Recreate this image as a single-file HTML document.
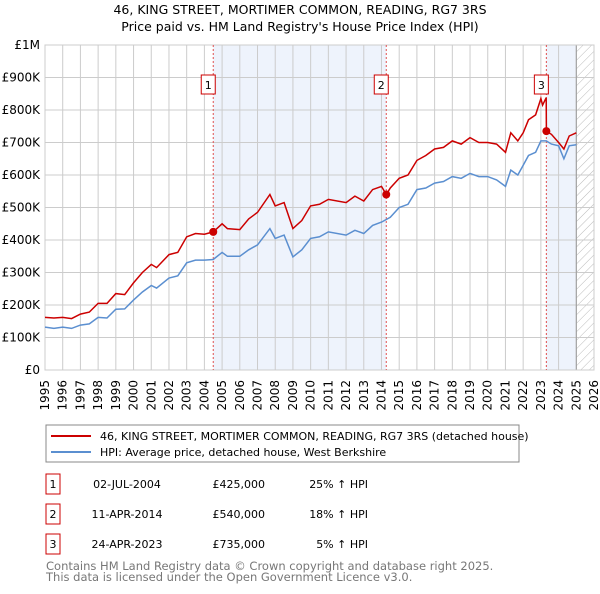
<!DOCTYPE html>
<html><head><meta charset="utf-8"><style>
body{margin:0;background:#fff;font-family:"DejaVu Sans","Liberation Sans",sans-serif;}
svg text{font-family:"DejaVu Sans","Liberation Sans",sans-serif;}
</style></head><body>
<svg id="c" width="600" height="590" viewBox="0 0 600 590" xmlns="http://www.w3.org/2000/svg">
<defs><pattern id="hatch" width="6" height="6" patternUnits="userSpaceOnUse" patternTransform="rotate(45)"><line x1="0" y1="0" x2="0" y2="6" stroke="#bbb" stroke-width="1"/></pattern></defs>
<text x="300" y="14" font-size="12.5" text-anchor="middle">46, KING STREET, MORTIMER COMMON, READING, RG7 3RS</text>
<text x="300" y="31" font-size="12.5" text-anchor="middle">Price paid vs. HM Land Registry's House Price Index (HPI)</text>
<g id="plot"></g>
<g>
<rect x="46" y="425" width="473" height="37" fill="#fff" stroke="#888"/>
<line x1="51" y1="436" x2="91" y2="436" stroke="#cc0000" stroke-width="2"/>
<text x="100" y="440" font-size="11">46, KING STREET, MORTIMER COMMON, READING, RG7 3RS (detached house)</text>
<line x1="51" y1="452" x2="91" y2="452" stroke="#5b8fd0" stroke-width="2"/>
<text x="100" y="456" font-size="11">HPI: Average price, detached house, West Berkshire</text>
</g>
<g id="table" font-size="11"></g>
<text x="46" y="570" font-size="11.5" fill="#777">Contains HM Land Registry data © Crown copyright and database right 2025.</text>
<text x="46" y="581" font-size="11.5" fill="#777">This data is licensed under the Open Government Licence v3.0.</text>
</svg>
<script>
const priceYears=[1995,1995.5,1996,1996.5,1997,1997.5,1998,1998.5,1999,1999.5,2000,2000.5,2001,2001.3,2002,2002.5,2003,2003.5,2004,2004.5,2005,2005.3,2006,2006.5,2007,2007.7,2008,2008.5,2009,2009.5,2010,2010.5,2011,2012,2012.5,2013,2013.5,2014,2014.27,2014.5,2015,2015.5,2016,2016.5,2017,2017.5,2018,2018.5,2019,2019.5,2020,2020.5,2021,2021.3,2021.7,2022,2022.3,2022.7,2023,2023.1,2023.3,2023.31,2023.6,2024,2024.3,2024.6,2025];
const priceValues=[162,160,162,158,172,178,205,205,235,232,268,300,325,315,355,362,410,420,418,425,450,435,432,465,485,540,505,515,435,460,505,510,525,515,535,520,555,565,540,560,590,600,645,660,680,685,705,695,715,700,700,695,670,730,705,730,770,785,835,815,838,735,725,700,680,720,730];
const hpiYears=[1995,1995.5,1996,1996.5,1997,1997.5,1998,1998.5,1999,1999.5,2000,2000.5,2001,2001.3,2002,2002.5,2003,2003.5,2004,2004.5,2005,2005.3,2006,2006.5,2007,2007.7,2008,2008.5,2009,2009.5,2010,2010.5,2011,2012,2012.5,2013,2013.5,2014,2014.5,2015,2015.5,2016,2016.5,2017,2017.5,2018,2018.5,2019,2019.5,2020,2020.5,2021,2021.3,2021.7,2022,2022.3,2022.7,2023,2023.3,2023.6,2024,2024.3,2024.6,2025];
const hpiValues=[132,128,132,128,138,142,162,160,187,188,215,240,260,252,283,290,330,338,338,340,362,350,350,370,385,435,405,415,348,370,405,410,425,415,430,420,445,455,470,500,510,555,560,575,580,595,590,605,595,595,585,565,615,600,630,660,670,705,705,695,690,650,690,693];
const saleLabels=["1","2","3"];
const saleYears=[2004.5,2014.27,2023.31];
const saleValues=[425,540,735];
const saleDates=["02-JUL-2004","11-APR-2014","24-APR-2023"];
const salePrices=["£425,000","£540,000","£735,000"];
const salePcts=["25% ↑ HPI","18% ↑ HPI","5% ↑ HPI"];
const yTicks=[0,100,200,300,400,500,600,700,800,900,1000];
const yTickLabels=["£0","£100K","£200K","£300K","£400K","£500K","£600K","£700K","£800K","£900K","£1M"];
const xTicks=[1995,1996,1997,1998,1999,2000,2001,2002,2003,2004,2005,2006,2007,2008,2009,2010,2011,2012,2013,2014,2015,2016,2017,2018,2019,2020,2021,2022,2023,2024,2025,2026];

const L=45,R=594,T=45,B=370,X0=1995,X1=2026;
const sx=v=>L+(v-X0)/(X1-X0)*(R-L);
const sy=v=>B-v/1000*(B-T);
const NS="http://www.w3.org/2000/svg";
const plot=document.getElementById('plot');
function mk(tag,attrs,parent){const e=document.createElementNS(NS,tag);for(const k in attrs)e.setAttribute(k,attrs[k]);(parent||plot).appendChild(e);return e;}
let e;
e=mk('rect',{x:sx(saleYears[0]),y:T,width:sx(saleYears[1])-sx(saleYears[0]),height:B-T,fill:'#eef3fc'});


e=mk('rect',{x:sx(saleYears[2]),y:T,width:sx(2025)-sx(saleYears[2]),height:B-T,fill:'#eef3fc'});


e=mk('rect',{x:sx(2025),y:T,width:sx(2026)-sx(2025),height:B-T,fill:'url(#hatch)'});


yTicks.forEach((v,i)=>{
 e=mk('line',{x1:L,x2:R,y1:sy(v),y2:sy(v),stroke:'#ccc','stroke-width':1});
 
 
 e=mk('text',{x:40,y:sy(v)+4,'font-size':12,'text-anchor':'end'});e.textContent=yTickLabels[i];
 
 
});
xTicks.forEach(v=>{
 e=mk('line',{x1:sx(v),x2:sx(v),y1:T,y2:B,stroke:'#ccc','stroke-width':1});
 
 
 const tx=sx(v)+4, ty=380;
 e=mk('text',{x:tx,y:ty,'font-size':12,'text-anchor':'end',transform:`rotate(-90 ${tx} ${ty})`});e.textContent=v;
 
 
});
e=mk('line',{x1:sx(2025),x2:sx(2025),y1:T,y2:B,stroke:'#999','stroke-width':1});


e=mk('rect',{x:L,y:T,width:R-L,height:B-T,fill:'none',stroke:'#ccc'});


saleYears.forEach((y,i)=>{
 e=mk('line',{x1:sx(y),x2:sx(y),y1:T,y2:B,stroke:'#e05050','stroke-width':1,'stroke-dasharray':'2,2'});
 
 
 const bx=sx(y)-11;
 e=mk('rect',{x:bx-1,y:75,width:14,height:19,fill:'#fff',stroke:'#cc0000'});
 
 
 e=mk('text',{x:bx+6,y:89,'font-size':11,'text-anchor':'middle'});e.textContent=saleLabels[i];
 
 
});
function pathOf(xs,ys){return xs.map((x,i)=>(i?'L':'M')+sx(x).toFixed(1)+','+sy(ys[i]).toFixed(1)).join('');}
e=mk('path',{d:pathOf(hpiYears,hpiValues),fill:'none',stroke:'#5b8fd0','stroke-width':1.5});


e=mk('path',{d:pathOf(priceYears,priceValues),fill:'none',stroke:'#cc0000','stroke-width':1.5});


saleYears.forEach((y,i)=>{
 e=mk('circle',{cx:sx(y),cy:sy(saleValues[i]),r:4,fill:'#cc0000'});
 
 
});
const tb=document.getElementById('table');
saleLabels.forEach((lab,i)=>{
 const y=483+i*30;
 e=mk('rect',{x:46,y:y-9,width:14,height:20,fill:'#fff',stroke:'#cc0000'},tb);
 
 
 e=mk('text',{x:53,y:y+5,'text-anchor':'middle'},tb);e.textContent=lab;
 
 
 e=mk('text',{x:127,y:y+5,'text-anchor':'middle'},tb);e.textContent=saleDates[i];
 
 
 e=mk('text',{x:265,y:y+5,'text-anchor':'end'},tb);e.textContent=salePrices[i];
 
 
 e=mk('text',{x:368,y:y+5,'text-anchor':'end'},tb);e.textContent=salePcts[i];
 
 
});
</script>
</body></html>
